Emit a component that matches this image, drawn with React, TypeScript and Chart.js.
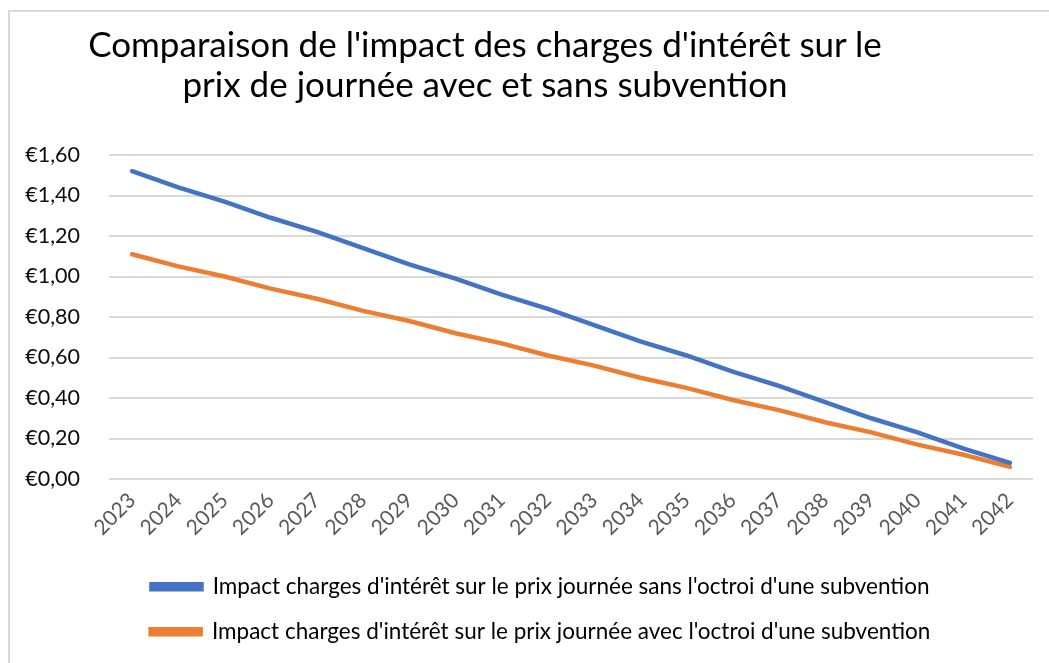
import React, { useEffect, useRef } from "react";
import { Chart, registerables } from "chart.js";

Chart.register(...registerables);

const titleLines = [
  "Comparaison de l'impact des charges d'intérêt sur le",
  "prix de journée avec et sans subvention",
];

const years = [
  "2023", "2024", "2025", "2026", "2027", "2028", "2029", "2030", "2031", "2032",
  "2033", "2034", "2035", "2036", "2037", "2038", "2039", "2040", "2041", "2042",
];

const seriesSansLabel =
  "Impact charges d'intérêt sur le prix journée sans l'octroi d'une subvention";
const seriesAvecLabel =
  "Impact charges d'intérêt sur le prix journée avec l'octroi d'une subvention";

const sansSubvention = [
  1.52, 1.44, 1.37, 1.29, 1.22, 1.14, 1.06, 0.99, 0.91, 0.84,
  0.76, 0.68, 0.61, 0.53, 0.46, 0.38, 0.30, 0.23, 0.15, 0.08,
];

const avecSubvention = [
  1.11, 1.05, 1.0, 0.94, 0.89, 0.83, 0.78, 0.72, 0.67, 0.61,
  0.56, 0.5, 0.45, 0.39, 0.34, 0.28, 0.23, 0.17, 0.12, 0.06,
];

const yMin = 0;
const yMax = 1.6;
const yStep = 0.2;

const FONT = "Lato, 'Noto Sans', sans-serif";

const legendShift = {
  id: "legendShift",
  afterLayout(chart: any) {
    const lg = chart.legend;
    if (lg) {
      lg.left += 19;
      lg.right += 19;
    }
  },
};

export default function App() {
  const canvasRef = useRef<HTMLCanvasElement | null>(null);

  useEffect(() => {
    const canvas = canvasRef.current;
    if (!canvas) return;
    const chart = new Chart(canvas, {
      type: "line",
      data: {
        labels: years,
        datasets: [
          {
            label: seriesSansLabel,
            data: sansSubvention,
            borderColor: "#4472C4",
            backgroundColor: "#4472C4",
            borderWidth: 4.5,
            borderCapStyle: "round",
            pointRadius: 0,
            tension: 0,
          },
          {
            label: seriesAvecLabel,
            data: avecSubvention,
            borderColor: "#ED7D31",
            backgroundColor: "#ED7D31",
            borderWidth: 4.5,
            borderCapStyle: "round",
            pointRadius: 0,
            tension: 0,
          },
        ],
      },
      options: {
        responsive: false,
        animation: false,
        layout: { padding: { top: 143, left: 0, right: 16, bottom: 10 } },
        plugins: {
          title: { display: false },
          tooltip: { enabled: false },
          legend: {
            display: true,
            position: "bottom",
            labels: {
              font: { family: FONT, size: 22.5 },
              color: "#000000",
              boxWidth: 50,
              boxHeight: 5,
              padding: 22.5,
            },
          },
        },
        scales: {
          x: {
            offset: true,
            grid: { display: false, drawTicks: false },
            border: { display: false },
            ticks: {
              font: { family: FONT, size: 21 },
              color: "#595959",
              minRotation: 45,
              maxRotation: 45,
              padding: 9,
              autoSkip: false,
            },
            afterFit: (scale: any) => {
              scale.height = 74;
            },
          },
          y: {
            min: yMin,
            max: yMax,
            grid: { color: "#d9d9d9", lineWidth: 2, drawTicks: false },
            border: { display: false },
            ticks: {
              stepSize: yStep,
              font: { family: FONT, size: 21.5 },
              color: "#0d0d0d",
              padding: 29,
              callback: (v: any) => "€" + Number(v).toFixed(2).replace(".", ","),
            },
            afterFit: (scale: any) => {
              scale.width = 99;
            },
          },
        },
      },
      plugins: [legendShift],
    });
    return () => chart.destroy();
  }, []);

  return (
    <div
      style={{
        position: "fixed",
        left: 8,
        top: 10,
        right: 0,
        bottom: 0,
        borderTop: "2px solid #d9d9d9",
        borderLeft: "2px solid #d9d9d9",
        background: "#ffffff",
        overflow: "hidden",
      }}
    >
      <canvas
        ref={canvasRef}
        width={1039}
        height={651}
        style={{ position: "absolute", left: 0, top: 0, width: 1039, height: 651 }}
      />
      <div
        style={{
          position: "absolute",
          left: 0,
          top: 11,
          width: 950,
          textAlign: "center",
          fontFamily: FONT,
          fontSize: 35,
          lineHeight: "40px",
          color: "#000000",
        }}
      >
        {titleLines.map((t, i) => (
          <div key={i} style={{ whiteSpace: "nowrap" }}>{t}</div>
        ))}
      </div>
    </div>
  );
}
